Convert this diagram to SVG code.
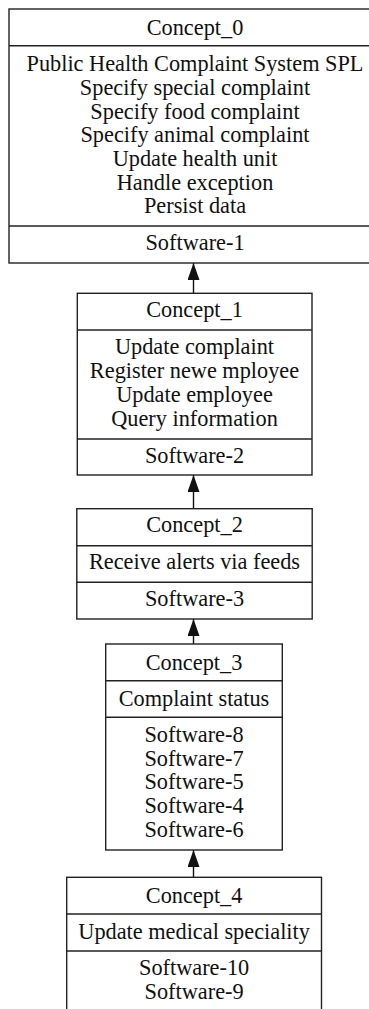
<svg xmlns="http://www.w3.org/2000/svg" width="369" height="1009" viewBox="0 0 369 1009">
<style>
.box{fill:#fff;stroke:#222;stroke-width:1.4}
.div{stroke:#222;stroke-width:1.4}
text{font-family:"Liberation Serif","Times New Roman",serif;font-size:22.3px;fill:#111;text-anchor:middle}
.edge{stroke:#111;stroke-width:1.4;fill:none;marker-end:url(#ah)}
</style>
<defs>
<marker id="ah" viewBox="0 0 17 12" refX="17" refY="6" markerWidth="17" markerHeight="12" markerUnits="userSpaceOnUse" orient="auto">
<path d="M0,0 L17,6 L0,12 Z" fill="#111"/>
</marker>
</defs>
<rect width="369" height="1009" fill="#fff"/>
<g id="edges">
<line class="edge" x1="193.5" y1="293" x2="193.5" y2="263"/>
<line class="edge" x1="193.5" y1="508.7" x2="193.5" y2="475"/>
<line class="edge" x1="193.5" y1="644" x2="193.5" y2="619"/>
<line class="edge" x1="193.5" y1="877.3" x2="193.5" y2="850"/>
</g>
<g id="Concept_0">
<rect class="box" x="9" y="9" width="372" height="254"/>
<line class="div" x1="9" y1="45.7" x2="381" y2="45.7"/>
<line class="div" x1="9" y1="226" x2="381" y2="226"/>
<text x="195" y="35">Concept_0</text>
<text x="195" y="71.3">Public Health Complaint System SPL</text>
<text x="195" y="95">Specify special complaint</text>
<text x="195" y="118.7">Specify food complaint</text>
<text x="195" y="142.3">Specify animal complaint</text>
<text x="195" y="166">Update health unit</text>
<text x="195" y="189.7">Handle exception</text>
<text x="195" y="213.3">Persist data</text>
<text x="195" y="250">Software-1</text>
</g>
<g id="Concept_1">
<rect class="box" x="77.3" y="293.3" width="234.7" height="181.7"/>
<line class="div" x1="77.3" y1="330" x2="312" y2="330"/>
<line class="div" x1="77.3" y1="439" x2="312" y2="439"/>
<text x="194.5" y="316.7">Concept_1</text>
<text x="194.5" y="354">Update complaint</text>
<text x="194.5" y="377.8">Register newe mployee</text>
<text x="194.5" y="401.7">Update employee</text>
<text x="194.5" y="425.6">Query information</text>
<text x="194.5" y="462.7">Software-2</text>
</g>
<g id="Concept_2">
<rect class="box" x="76.8" y="508.7" width="235.4" height="110.3"/>
<line class="div" x1="76.8" y1="545.7" x2="312.2" y2="545.7"/>
<line class="div" x1="76.8" y1="582.3" x2="312.2" y2="582.3"/>
<text x="194.5" y="532.3">Concept_2</text>
<text x="194.5" y="569.3">Receive alerts via feeds</text>
<text x="194.5" y="606">Software-3</text>
</g>
<g id="Concept_3">
<rect class="box" x="105.7" y="644" width="176.6" height="206"/>
<line class="div" x1="105.7" y1="680.7" x2="282.3" y2="680.7"/>
<line class="div" x1="105.7" y1="717.3" x2="282.3" y2="717.3"/>
<text x="194" y="670">Concept_3</text>
<text x="194" y="706">Complaint status</text>
<text x="194" y="741.7">Software-8</text>
<text x="194" y="765.5">Software-7</text>
<text x="194" y="789.3">Software-5</text>
<text x="194" y="813.1">Software-4</text>
<text x="194" y="836.9">Software-6</text>
</g>
<g id="Concept_4">
<rect class="box" x="66.7" y="877.3" width="254.8" height="145"/>
<line class="div" x1="66.7" y1="914" x2="321.5" y2="914"/>
<line class="div" x1="66.7" y1="951" x2="321.5" y2="951"/>
<text x="194.1" y="903.3">Concept_4</text>
<text x="194.1" y="939.3">Update medical speciality</text>
<text x="194.1" y="975">Software-10</text>
<text x="194.1" y="998.5">Software-9</text>
</g>
</svg>
